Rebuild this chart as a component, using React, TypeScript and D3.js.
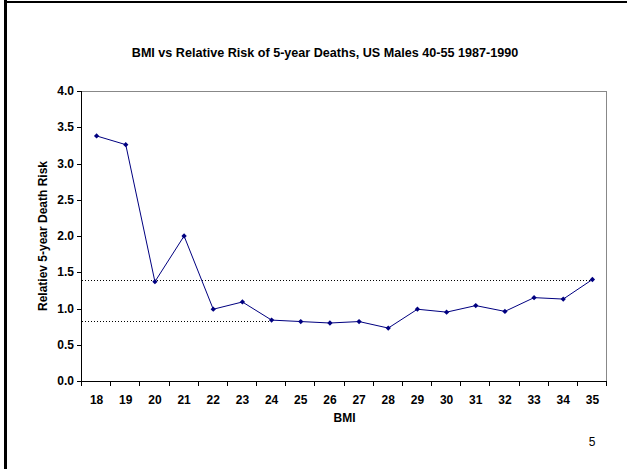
import React from "react";
import * as d3 from "d3";

const categories = ["18","19","20","21","22","23","24","25","26","27","28","29","30","31","32","33","34","35"];
const risk = [3.38, 3.26, 1.37, 2.0, 0.99, 1.09, 0.84, 0.82, 0.80, 0.82, 0.73, 0.99, 0.95, 1.04, 0.96, 1.15, 1.13, 1.40];
const yTicks = [0, 0.5, 1.0, 1.5, 2.0, 2.5, 3.0, 3.5, 4.0];
const refLines = [
  { value: 1.40, from: "18", to: "35" },
  { value: 0.83, from: "18", to: "24" },
];

const W = 627, H = 469;
const L = 82, R = 607, T = 91, B = 381;
const font = "'Liberation Sans', Arial, sans-serif";

export default function App() {
  const x = d3.scaleBand<string>().domain(categories).range([L, R]).padding(0);
  const y = d3.scaleLinear().domain([0, 4]).range([B, T]);
  const cx = (c: string) => (x(c) as number) + x.bandwidth() / 2;
  const line = d3.line<number>().x((_, i) => cx(categories[i])).y((d) => y(d));
  const marker = d3.symbol().type(d3.symbolSquare).size(14)();
  const boundaries = categories.map((c) => x(c) as number).concat([R]);

  return (
    <svg width={W} height={H} style={{ position: "absolute", left: 0, top: 0, background: "#fff" }}>
      <rect x={0} y={0} width={W} height={H} fill="#fff" />
      <line x1={5.5} y1={0} x2={5.5} y2={H} stroke="#000" strokeWidth={3} />
      <line x1={4} y1={2} x2={W} y2={2} stroke="#000" strokeWidth={2} />
      <text x={325} y={57} textAnchor="middle" fontFamily={font} fontWeight="bold" fontSize={12.6}>
        BMI vs Relative Risk of 5-year Deaths, US Males 40-55 1987-1990
      </text>
      <line x1={L} y1={T + 0.5} x2={R} y2={T + 0.5} stroke="#888" strokeWidth={1} />
      <line x1={R - 0.5} y1={T} x2={R - 0.5} y2={B} stroke="#888" strokeWidth={1} />
      <line x1={L - 0.5} y1={T} x2={L - 0.5} y2={B} stroke="#000" strokeWidth={1} />
      <line x1={L - 5} y1={B + 0.5} x2={R} y2={B + 0.5} stroke="#000" strokeWidth={1} />
      {yTicks.map((t) => (
        <g key={t}>
          <line x1={L - 5} x2={L} y1={Math.round(y(t)) + 0.5} y2={Math.round(y(t)) + 0.5} stroke="#000" />
          <text x={L - 8} y={y(t) + 4} textAnchor="end" fontFamily={font} fontWeight="bold" fontSize={12}>
            {t.toFixed(1)}
          </text>
        </g>
      ))}
      {boundaries.map((b, i) => (
        <line key={i} x1={Math.round(b) - 0.5} x2={Math.round(b) - 0.5} y1={B} y2={B + 5} stroke="#000" />
      ))}
      {categories.map((c) => (
        <text key={c} x={cx(c)} y={404} textAnchor="middle" fontFamily={font} fontWeight="bold" fontSize={12}>
          {c}
        </text>
      ))}
      <text x={(L + R) / 2} y={422} textAnchor="middle" fontFamily={font} fontWeight="bold" fontSize={12}>
        BMI
      </text>
      <text
        transform={`translate(47,${(T + B) / 2}) rotate(-90)`}
        textAnchor="middle"
        fontFamily={font}
        fontWeight="bold"
        fontSize={12}
      >
        Relatiev 5-year Death Risk
      </text>
      {refLines.map((r, i) => (
        <line
          key={i}
          x1={L}
          x2={cx(r.to)}
          y1={Math.round(y(r.value)) + 0.5}
          y2={Math.round(y(r.value)) + 0.5}
          stroke="#000"
          strokeWidth={1}
          strokeDasharray="1,2"
        />
      ))}
      <path d={line(risk) || ""} fill="none" stroke="#000080" strokeWidth={1} />
      {risk.map((v, i) => (
        <path
          key={i}
          d={marker || ""}
          transform={`translate(${cx(categories[i])},${y(v)}) rotate(45)`}
          fill="#000080"
        />
      ))}
      <text x={592} y={446} textAnchor="middle" fontFamily={font} fontSize={12}>
        5
      </text>
    </svg>
  );
}
